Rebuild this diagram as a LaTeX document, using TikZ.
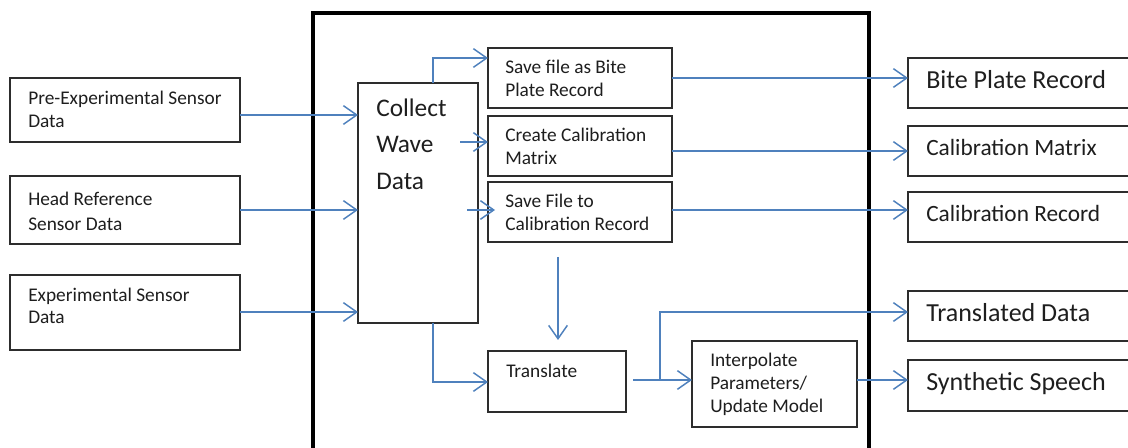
\documentclass[tikz,border=0pt]{standalone}
\usepackage{fontspec}
\setmainfont{Carlito}
\usetikzlibrary{arrows.meta,calc}
\definecolor{arrblue}{RGB}{79,129,189}
\definecolor{boxgray}{RGB}{45,45,45}
\definecolor{txtc}{RGB}{30,30,30}
\newcommand\mkbox[5]{\node[bx, anchor=north west, minimum width={(#4-#2)*0.75pt}, minimum height={(#5-#3)*0.75pt}] (#1) at (#2,#3) {};}
\begin{document}
\begin{tikzpicture}[x=0.75pt,y=-0.75pt,
  bx/.style={draw=boxgray, line width=1.4pt, inner sep=0pt, outer sep=0pt},
  arr/.style={draw=arrblue, line width=1.1pt, -{Straight Barb[length=10pt,width=14pt,line width=1.1pt]}},
  ln/.style={draw=arrblue, line width=1.1pt},
  tx/.style={anchor=base west, inner sep=0pt, text=txtc, font=\fontsize{14.5}{17}\selectfont},
  txc/.style={tx, font=\fontsize{19}{23}\selectfont},
  txb/.style={tx, font=\fontsize{19.5}{23}\selectfont},
  txm/.style={tx, font=\fontsize{17.5}{21}\selectfont}]
\useasboundingbox (0,0) rectangle (1128,448);
\fill[white] (0,0) rectangle (1128,448);
\clip (0,0) rectangle (1128,448);

% outer frame (open at the bottom of the picture)
\node[draw=black, line width=3pt, inner sep=0pt, outer sep=0pt, anchor=north west,
  minimum width={556*0.75pt}, minimum height={480*0.75pt}] (frame) at (313,13) {};

% input boxes
\mkbox{b1}{10}{78}{240}{142}
\mkbox{b2}{10}{176}{240}{244}
\mkbox{b3}{10}{275}{240}{350}
% collect box
\mkbox{cw}{358}{83}{478}{323}
% middle boxes
\mkbox{sb}{488}{48}{672}{108}
\mkbox{cc}{488}{116}{672}{176}
\mkbox{sf}{488}{182}{672}{242}
\mkbox{tr}{488}{351}{626}{412}
\mkbox{ip}{692}{341}{857}{427}
% output boxes
\mkbox{bp}{908}{58}{1145}{108}
\mkbox{cm}{908}{126}{1145}{176}
\mkbox{cr}{908}{192}{1145}{242}
\mkbox{td}{908}{291}{1145}{341}
\mkbox{ss}{908}{360}{1145}{411}

% texts
\node[tx] (t1a) at (28,105) {Pre-Experimental Sensor};
\node[tx] (t1b) at (28,128) {Data};
\node[tx] (t2a) at (28,206) {Head Reference};
\node[tx] (t2b) at (28,231) {Sensor Data};
\node[tx] (t3a) at (28,302) {Experimental Sensor};
\node[tx] (t3b) at (28,324) {Data};
\node[txc] (c1) at (376,117) {Collect};
\node[txc] (c2) at (376,153) {Wave};
\node[txc] (c3) at (376,190) {Data};
\node[tx] (s1) at (505,74) {Save file as Bite};
\node[tx] (s2) at (505,97) {Plate Record};
\node[tx] (s3) at (505,142) {Create Calibration};
\node[tx] (s4) at (505,165) {Matrix};
\node[tx] (s5) at (505,208) {Save File to};
\node[tx] (s6) at (505,231) {Calibration Record};
\node[tx] (s7) at (506,378) {Translate};
\node[tx] (i1) at (710,367) {Interpolate};
\node[tx] (i2) at (710,390) {Parameters/};
\node[tx] (i3) at (710,413) {Update Model};
\node[txb] (o1) at (926,89) {Bite Plate Record};
\node[txm] (o2) at (926,156) {Calibration Matrix};
\node[txm] (o3) at (926,222) {Calibration Record};
\node[txb] (o4) at (926,322) {Translated Data};
\node[txb] (o5) at (926,391) {Synthetic Speech};

% free connector ends
\coordinate (w1) at (460,142);
\coordinate (w2) at (467,210);
\coordinate (w2e) at (495,210);
\coordinate (d1) at (558,257);
\coordinate (d2) at (558,340);
\coordinate (tro) at (633,380);
\coordinate (br) at (660,380);

% inputs to collect
\draw[arr] (b1.east |- 0,115) -- (cw.west |- 0,115);
\draw[arr] (b2.east |- 0,210) -- (cw.west |- 0,210);
\draw[arr] (b3.east |- 0,312) -- (cw.west |- 0,312);
% collect to middle
\draw[arr] ($(cw.north)+(15,0)$) |- (sb.west |- 0,58);
\draw[arr] (w1) -- (cc.west |- w1);
\draw[arr] (w2) -- (w2e);
\draw[arr] (d1) -- (d2);
\draw[arr] ($(cw.south)+(15,0)$) |- (tr.west |- 0,382);
% translate outputs
\draw[arr] (tro) -- (ip.west |- tro);
\draw[arr] (br) |- (td.west |- 0,312);
% middle to outputs
\draw[arr] (sb.east) -- (sb.east -| bp.west);
\draw[arr] (cc.east |- 0,151) -- (cm.west |- 0,151);
\draw[arr] (sf.east |- 0,210) -- (cr.west |- 0,210);
\draw[arr] (ip.east |- 0,380) -- (ss.west |- 0,380);
\end{tikzpicture}
\end{document}
